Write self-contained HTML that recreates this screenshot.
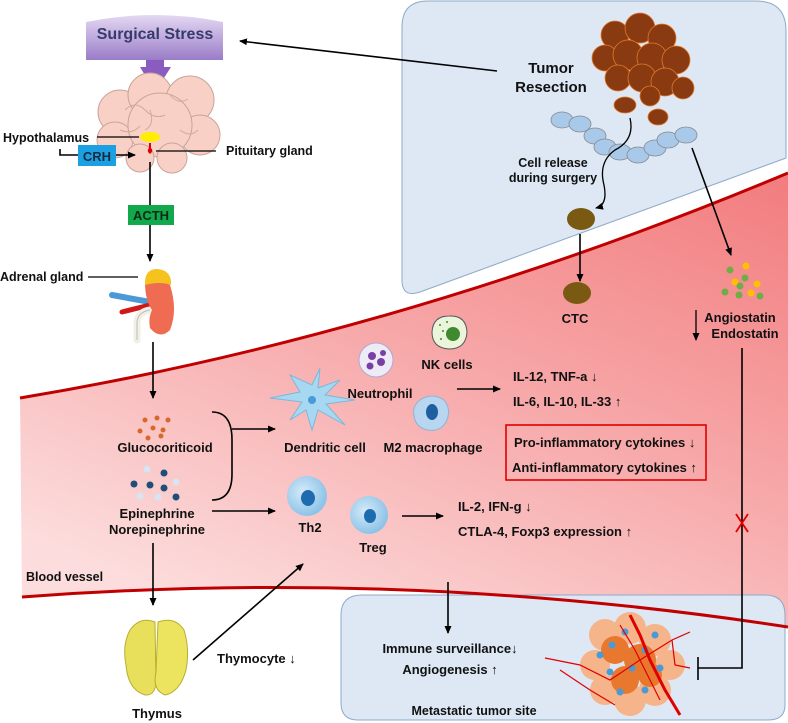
<!DOCTYPE html>
<html><head><meta charset="utf-8"><style>
html,body{margin:0;padding:0;background:#fff}
svg{display:block}
text{font-family:"Liberation Sans",Arial,sans-serif;font-weight:bold;fill:#111}
</style></head><body>
<svg width="788" height="723" viewBox="0 0 788 723" xmlns="http://www.w3.org/2000/svg">
<defs>
<marker id="ah" markerWidth="8" markerHeight="8" refX="7" refY="4" orient="auto" markerUnits="userSpaceOnUse"><path d="M0,0.5 L8,4 L0,7.5 Z" fill="#000"/></marker>
<linearGradient id="pk" x1="1" y1="0" x2="0.3" y2="1"><stop offset="0" stop-color="#f27c7e"/><stop offset="0.5" stop-color="#f7a9aa"/><stop offset="1" stop-color="#fcdcdc"/></linearGradient>
<linearGradient id="pu" x1="0" y1="0" x2="0" y2="1"><stop offset="0" stop-color="#e4d8f2"/><stop offset="1" stop-color="#9a7cc8"/></linearGradient>
<radialGradient id="cb" cx="0.4" cy="0.4" r="0.6"><stop offset="0" stop-color="#d7ebf8"/><stop offset="1" stop-color="#8cc3e8"/></radialGradient>
</defs>

<!-- top-right tumor box -->
<path d="M428,1 L756,1 Q786,1 786,31 L786,158 L420,292 Q402,298 402,280 L402,27 Q402,1 428,1 Z" fill="#dde8f4" stroke="#8fa9c8" stroke-width="1"/>

<!-- blood vessel -->
<path d="M20,398 Q404,334 788,173 L788,627 Q405,568 22,597 Z" fill="url(#pk)"/>
<!-- metastatic box -->
<path d="M362,595 L765,595 Q785,595 785,615 L785,705 Q785,720 768,720 L358,720 Q341,720 341,703 L341,615 Q341,595 362,595 Z" fill="#dde8f4" stroke="#8fa9c8" stroke-width="1"/>
<path d="M20,398 Q404,334 788,173" fill="none" stroke="#c00000" stroke-width="3"/>
<path d="M22,597 Q405,568 788,627" fill="none" stroke="#c00000" stroke-width="3"/>

<!-- Surgical stress banner -->
<path d="M86,22 Q155,8 223,22 L223,60 L86,60 Z" fill="url(#pu)"/>
<text x="155" y="39" font-size="16" text-anchor="middle" style="fill:#353b6b">Surgical Stress</text>
<path d="M146,60 L164,60 L164,67 L171,67 L155,92 L140,67 L146,67 Z" fill="#8a5cc0"/>

<!-- brain -->
<g fill="#f9d0c5" stroke="#c9a49a" stroke-width="1">
<circle cx="120" cy="112" r="22"/><circle cx="150" cy="95" r="22"/><circle cx="190" cy="100" r="24"/>
<circle cx="200" cy="135" r="20"/><circle cx="115" cy="140" r="18"/><circle cx="160" cy="125" r="32"/>
<circle cx="140" cy="158" r="14"/><circle cx="172" cy="158" r="15"/>
</g>
<g fill="none" stroke="#d4a89d" stroke-width="1"><path d="M125,110 q10,-10 20,0 t20,5"/><path d="M170,95 q8,10 18,4"/><path d="M120,130 q12,5 20,-4"/><path d="M180,130 q10,8 18,0"/><path d="M150,110 q5,15 -5,20"/></g>
<ellipse cx="150" cy="137" rx="10" ry="5" fill="#ffee00"/>
<path d="M149,143 L151,143 L151,148 Q154,151 150,154 Q146,151 149,148 Z" fill="#e00000"/>
<text x="3" y="142" font-size="12.5">Hypothalamus</text>
<line x1="97" y1="137" x2="139" y2="137" stroke="#000" stroke-width="1.3"/>
<path d="M60,149 L60,155 L78,155" fill="none" stroke="#000" stroke-width="1.6"/>
<rect x="78" y="145" width="38" height="21" fill="#1ba1e2"/>
<text x="97" y="161" font-size="13" text-anchor="middle" style="fill:#1a2a40">CRH</text>
<line x1="116" y1="155" x2="135" y2="155" stroke="#000" stroke-width="1.6" marker-end="url(#ah)"/>
<line x1="156" y1="151" x2="216" y2="151" stroke="#000" stroke-width="1.3"/>
<text x="226" y="155" font-size="12.5">Pituitary gland</text>
<line x1="150" y1="162" x2="150" y2="261" stroke="#000" stroke-width="1.6" marker-end="url(#ah)"/>
<rect x="128" y="205" width="46" height="20" fill="#12a94c"/>
<text x="151" y="220" font-size="13" text-anchor="middle" style="fill:#0f2a18">ACTH</text>

<!-- adrenal/kidney -->
<text x="0" y="281" font-size="12.5">Adrenal gland</text>
<line x1="88" y1="277" x2="138" y2="277" stroke="#000" stroke-width="1.3"/>
<path d="M112,295 L150,302" stroke="#4a9ad8" stroke-width="6" stroke-linecap="round"/>
<path d="M122,312 L150,305" stroke="#d01818" stroke-width="5" stroke-linecap="round"/>
<path d="M150,310 Q138,312 137,322 L137,340" stroke="#f2f0e6" stroke-width="7" fill="none" stroke-linecap="round"/>
<path d="M150,310 Q138,312 137,322 L137,340" stroke="#bbb" stroke-width="1" fill="none"/>
<path d="M145,282 Q160,275 170,285 Q178,310 170,330 Q160,340 150,328 Q148,318 152,310 Q145,300 145,282 Z" fill="#ef6b52"/>
<path d="M145,283 Q145,269 157,269 Q172,270 171,285 Q160,281 145,285 Z" fill="#f5c21e"/>
<line x1="153" y1="342" x2="153" y2="398" stroke="#000" stroke-width="1.6" marker-end="url(#ah)"/>

<!-- hormones -->
<g fill="#d8682a"><circle cx="145" cy="420" r="2.5"/><circle cx="157" cy="418" r="2.5"/><circle cx="168" cy="420" r="2.5"/><circle cx="140" cy="431" r="2.5"/><circle cx="153" cy="428" r="2.5"/><circle cx="163" cy="430" r="2.5"/><circle cx="148" cy="438" r="2.5"/><circle cx="161" cy="436" r="2.5"/></g>
<text x="165" y="452" font-size="13" text-anchor="middle">Glucocoriticoid</text>
<g><circle cx="147" cy="469" r="3.5" fill="#d7e4f2"/><circle cx="164" cy="473" r="3.5" fill="#1f4e79"/><circle cx="134" cy="484" r="3.5" fill="#1f4e79"/><circle cx="150" cy="485" r="3.5" fill="#1f4e79"/><circle cx="164" cy="488" r="3.5" fill="#1f4e79"/><circle cx="176" cy="482" r="3.5" fill="#d7e4f2"/><circle cx="140" cy="496" r="3.5" fill="#d7e4f2"/><circle cx="158" cy="497" r="3.5" fill="#d7e4f2"/><circle cx="176" cy="497" r="3.5" fill="#1f4e79"/></g>
<text x="157" y="518" font-size="13" text-anchor="middle">Epinephrine</text>
<text x="157" y="534" font-size="13" text-anchor="middle">Norepinephrine</text>
<path d="M212,412 Q232,412 232,440 L232,474 Q232,500 212,500" fill="none" stroke="#000" stroke-width="1.6"/>
<line x1="232" y1="429" x2="275" y2="429" stroke="#000" stroke-width="1.6" marker-end="url(#ah)"/>
<line x1="212" y1="511" x2="275" y2="511" stroke="#000" stroke-width="1.6" marker-end="url(#ah)"/>

<!-- dendritic cell -->
<path d="M312,385 L320,368 L318,388 L340,380 L325,395 L355,400 L326,404 L345,425 L318,410 L312,430 L306,410 L290,420 L302,402 L270,398 L300,392 L290,375 Z" fill="#a6d8f2" stroke="#7bb8dc" stroke-width="1"/>
<circle cx="312" cy="400" r="4" fill="#4a9ad8"/>
<text x="325" y="452" font-size="13" text-anchor="middle">Dendritic cell</text>
<!-- neutrophil -->
<circle cx="376" cy="360" r="17" fill="#ecebf6" stroke="#b0a8d0"/>
<g fill="#7a3fa5"><circle cx="372" cy="356" r="4"/><circle cx="381" cy="362" r="4"/><circle cx="370" cy="366" r="3.5"/><circle cx="383" cy="353" r="3"/></g>
<text x="380" y="398" font-size="13" text-anchor="middle">Neutrophil</text>
<!-- NK -->
<path d="M449,316 Q466,315 467,332 Q466,349 449,349 Q432,348 432,332 Q433,316 449,316 Z" fill="#eaf5dc" stroke="#555" stroke-width="1"/>
<circle cx="453" cy="334" r="7" fill="#3f8a2e"/>
<g fill="#3f8a2e"><circle cx="440" cy="325" r="1"/><circle cx="443" cy="331" r="1"/><circle cx="441" cy="339" r="1"/><circle cx="447" cy="322" r="1"/></g>
<text x="447" y="369" font-size="13" text-anchor="middle">NK cells</text>
<!-- macrophage -->
<path d="M420,400 Q432,392 444,400 Q452,410 446,422 Q440,432 428,430 Q416,428 414,416 Q412,406 420,400 Z" fill="#b8d6ef" stroke="#8db4d8"/>
<ellipse cx="432" cy="412" rx="6" ry="8" fill="#1f5fa0"/>
<text x="433" y="452" font-size="13" text-anchor="middle">M2 macrophage</text>
<line x1="457" y1="389" x2="500" y2="389" stroke="#000" stroke-width="1.6" marker-end="url(#ah)"/>
<text x="513" y="381" font-size="13">IL-12, TNF-a ↓</text>
<text x="513" y="406" font-size="13">IL-6, IL-10, IL-33 ↑</text>
<rect x="506" y="425" width="200" height="55" fill="none" stroke="#e00000" stroke-width="1.6"/>
<text x="514" y="447" font-size="13">Pro-inflammatory cytokines ↓</text>
<text x="512" y="472" font-size="13">Anti-inflammatory cytokines ↑</text>

<!-- Th2, Treg -->
<circle cx="307" cy="496" r="20" fill="url(#cb)"/><ellipse cx="308" cy="498" rx="7" ry="8" fill="#1f6bb0"/>
<text x="310" y="532" font-size="13" text-anchor="middle">Th2</text>
<circle cx="369" cy="515" r="19" fill="url(#cb)"/><ellipse cx="370" cy="516" rx="6" ry="7" fill="#1f6bb0"/>
<text x="373" y="552" font-size="13" text-anchor="middle">Treg</text>
<line x1="402" y1="516" x2="443" y2="516" stroke="#000" stroke-width="1.6" marker-end="url(#ah)"/>
<text x="458" y="511" font-size="13">IL-2, IFN-g ↓</text>
<text x="458" y="536" font-size="13">CTLA-4, Foxp3 expression ↑</text>

<text x="26" y="581" font-size="12.5">Blood vessel</text>
<line x1="153" y1="543" x2="153" y2="605" stroke="#000" stroke-width="1.6" marker-end="url(#ah)"/>

<!-- thymus -->
<path d="M155,622 Q140,616 130,630 Q122,645 126,665 Q128,690 145,695 Q156,696 156,680 Z" fill="#e8e05a" stroke="#b8ae30"/>
<path d="M158,622 Q175,616 184,630 Q190,650 186,670 Q180,692 165,695 Q152,690 156,672 Z" fill="#ece45e" stroke="#b8ae30"/>
<text x="157" y="718" font-size="13" text-anchor="middle">Thymus</text>
<line x1="193" y1="660" x2="303" y2="564" stroke="#000" stroke-width="1.6" marker-end="url(#ah)"/>
<text x="217" y="663" font-size="13">Thymocyte ↓</text>

<!-- metastatic -->
<line x1="448" y1="582" x2="448" y2="633" stroke="#000" stroke-width="1.6" marker-end="url(#ah)"/>
<text x="450" y="653" font-size="13" text-anchor="middle">Immune surveillance↓</text>
<text x="450" y="674" font-size="13" text-anchor="middle">Angiogenesis ↑</text>
<text x="474" y="715" font-size="12.5" text-anchor="middle">Metastatic tumor site</text>
<g fill="#f6b48a"><circle cx="605" cy="635" r="16"/><circle cx="630" cy="628" r="16"/><circle cx="655" cy="640" r="16"/><circle cx="670" cy="665" r="15"/><circle cx="655" cy="690" r="16"/><circle cx="630" cy="700" r="16"/><circle cx="605" cy="690" r="15"/><circle cx="595" cy="665" r="15"/></g>
<g fill="#e8782e"><circle cx="615" cy="650" r="14"/><circle cx="640" cy="660" r="16"/><circle cx="625" cy="680" r="14"/><circle cx="650" cy="675" r="12"/></g>
<g fill="#4a9ad8"><circle cx="612" cy="645" r="3.5"/><circle cx="625" cy="632" r="3.5"/><circle cx="645" cy="650" r="3.5"/><circle cx="660" cy="668" r="3.5"/><circle cx="632" cy="668" r="3.5"/><circle cx="610" cy="672" r="3.5"/><circle cx="620" cy="692" r="3.5"/><circle cx="645" cy="690" r="3.5"/><circle cx="600" cy="655" r="3.5"/><circle cx="655" cy="635" r="3.5"/></g>
<g fill="none" stroke="#e00000" stroke-width="1.2"><path d="M545,658 L580,665 L610,680 L640,660 L672,640 L690,632"/><path d="M560,670 L590,690 L615,705"/><path d="M620,625 L635,650 L660,700"/><path d="M672,640 L675,665 L690,668"/></g>
<path d="M630,615 L640,635 L650,660 L665,690 L680,715" fill="none" stroke="#e00000" stroke-width="3"/>
<path d="M742,348 L742,668 L698,668 M698,657 L698,680" fill="none" stroke="#000" stroke-width="1.6"/>
<path d="M736,514 L748,532 M748,514 L736,532" stroke="#e00000" stroke-width="1.8"/>

<!-- tumor resection -->
<line x1="497" y1="71" x2="240" y2="41" stroke="#000" stroke-width="1.6" marker-end="url(#ah)"/>
<text x="551" y="73" font-size="15" text-anchor="middle">Tumor</text>
<text x="551" y="92" font-size="15" text-anchor="middle">Resection</text>
<g fill="#8a3a10" stroke="#e07a30" stroke-width="0.8">
<circle cx="615" cy="35" r="14"/><circle cx="640" cy="28" r="15"/><circle cx="662" cy="38" r="14"/><circle cx="605" cy="58" r="13"/><circle cx="628" cy="55" r="15"/><circle cx="652" cy="58" r="15"/><circle cx="676" cy="60" r="14"/><circle cx="618" cy="78" r="13"/><circle cx="642" cy="78" r="14"/><circle cx="665" cy="82" r="14"/><circle cx="683" cy="88" r="11"/><circle cx="650" cy="96" r="10"/>
<ellipse cx="625" cy="105" rx="11" ry="8"/><ellipse cx="658" cy="117" rx="10" ry="8"/>
</g>
<g fill="#a9c9ea" stroke="#888" stroke-width="0.8">
<ellipse cx="562" cy="120" rx="11" ry="8"/><ellipse cx="580" cy="124" rx="11" ry="8"/><ellipse cx="595" cy="136" rx="11" ry="8"/><ellipse cx="605" cy="147" rx="11" ry="8"/><ellipse cx="620" cy="152" rx="11" ry="8"/><ellipse cx="638" cy="155" rx="11" ry="8"/><ellipse cx="655" cy="148" rx="11" ry="8"/><ellipse cx="668" cy="140" rx="11" ry="8"/><ellipse cx="686" cy="135" rx="11" ry="8"/>
</g>
<path d="M630,118 Q635,140 615,150 Q598,162 604,185 Q608,205 596,208" fill="none" stroke="#000" stroke-width="1.3" marker-end="url(#ah)"/>
<text x="553" y="167" font-size="12.5" text-anchor="middle">Cell release</text>
<text x="553" y="182" font-size="12.5" text-anchor="middle">during surgery</text>
<ellipse cx="581" cy="219" rx="14" ry="11" fill="#7a5a12"/>
<line x1="580" y1="234" x2="580" y2="281" stroke="#000" stroke-width="1.6" marker-end="url(#ah)"/>
<ellipse cx="577" cy="293" rx="14" ry="11" fill="#7a5a12"/>
<text x="575" y="323" font-size="13" text-anchor="middle">CTC</text>
<line x1="692" y1="148" x2="731" y2="255" stroke="#000" stroke-width="1.6" marker-end="url(#ah)"/>
<g><circle cx="730" cy="270" r="3.5" fill="#70ad47"/><circle cx="746" cy="266" r="3.5" fill="#ffc000"/><circle cx="735" cy="282" r="3.5" fill="#ffc000"/><circle cx="745" cy="278" r="3.5" fill="#70ad47"/><circle cx="757" cy="284" r="3.5" fill="#ffc000"/><circle cx="725" cy="292" r="3.5" fill="#70ad47"/><circle cx="739" cy="295" r="3.5" fill="#70ad47"/><circle cx="751" cy="293" r="3.5" fill="#ffc000"/><circle cx="740" cy="286" r="3.5" fill="#70ad47"/><circle cx="760" cy="296" r="3.5" fill="#70ad47"/></g>
<line x1="696" y1="310" x2="696" y2="340" stroke="#000" stroke-width="1.3" marker-end="url(#ah)"/>
<text x="740" y="322" font-size="13" text-anchor="middle">Angiostatin</text>
<text x="745" y="338" font-size="13" text-anchor="middle">Endostatin</text>
</svg>
</body></html>
